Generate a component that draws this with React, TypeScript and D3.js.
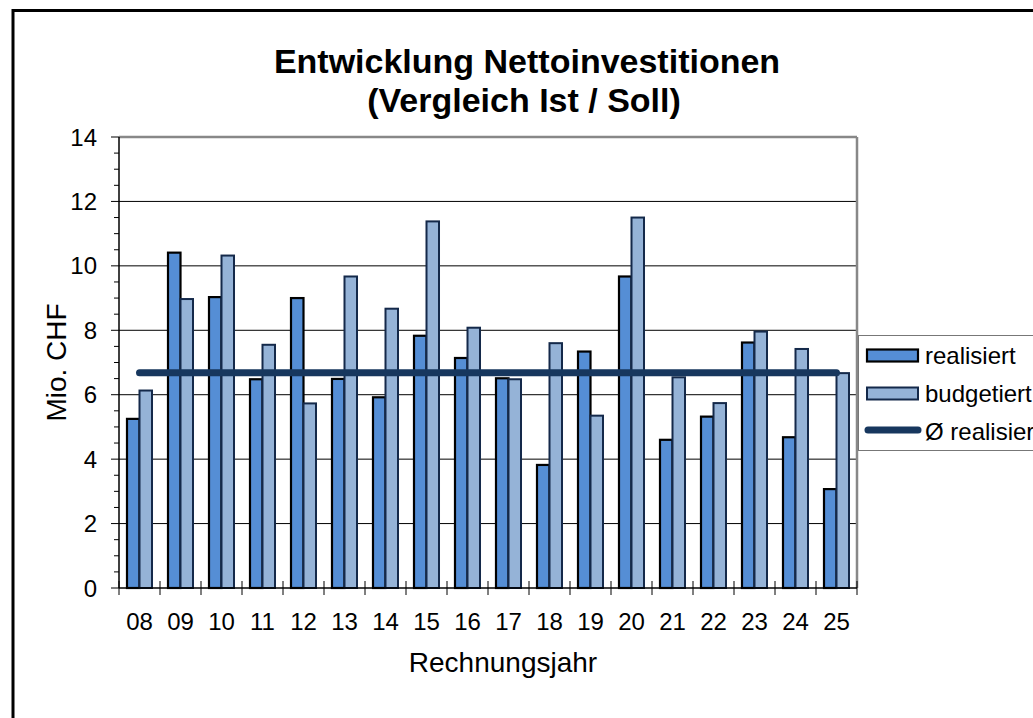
import React from "react";
import * as d3 from "d3";

const years = ["08","09","10","11","12","13","14","15","16","17","18","19","20","21","22","23","24","25"];
const realisiert = [5.25,10.41,9.03,6.48,9.0,6.49,5.92,7.83,7.14,6.51,3.82,7.34,9.67,4.6,5.32,7.62,4.68,3.07];
const budgetiert = [6.13,8.97,10.32,7.55,5.73,9.67,8.67,11.38,8.08,6.48,7.6,5.35,11.5,6.54,5.74,7.96,7.42,6.67];
const avgRealisiert = [6.68,6.68,6.68,6.68,6.68,6.68,6.68,6.68,6.68,6.68,6.68,6.68,6.68,6.68,6.68,6.68,6.68,6.68];
const yTicks = [0,2,4,6,8,10,12,14];
const seriesNames = ["realisiert","budgetiert"];
const legendLabels = ["realisiert","budgetiert","Ø realisiert"];

const FONT = "'Liberation Sans', Arial, sans-serif";
const C_REAL = "#558ED5";
const C_BUD = "#95B3D7";
const C_AVG = "#17375E";

export default function App() {
  const W = 1033, H = 718;
  const L = 119, R = 857, T = 137, B = 588;
  const x = d3.scaleBand<string>().domain(years).range([L, R]).paddingInner(0).paddingOuter(0);
  const bw = x.bandwidth();
  const groupW = bw * 0.61;
  const x1 = d3.scaleBand<string>().domain(seriesNames).range([0, groupW]).padding(0);
  const y = d3.scaleLinear().domain([0, 14]).range([B, T]);
  const minor = d3.range(0, 14.01, 0.5);
  const line = d3.line<number>()
    .x((_, i) => (x(years[i]) as number) + bw / 2)
    .y((d) => y(d));
  const off = (bw - groupW) / 2;

  return (
    <svg width={W} height={H} style={{ position: "absolute", left: 0, top: 0, background: "#fff" }} fontFamily={FONT}>
      <rect x={0} y={0} width={W} height={H} fill="#fff" />
      {/* outer frame */}
      <rect x={13} y={10.5} width={1100} height={800} fill="none" stroke="#000" strokeWidth={3} />
      {/* title */}
      <text x={527} y={73} textAnchor="middle" fontSize={34} fontWeight="bold">Entwicklung Nettoinvestitionen</text>
      <text x={524} y={112} textAnchor="middle" fontSize={34} fontWeight="bold">(Vergleich Ist / Soll)</text>
      {/* gridlines */}
      {yTicks.filter((t) => t > 0 && t < 14).map((t) => (
        <line key={t} x1={L} x2={R} y1={y(t)} y2={y(t)} stroke="#000" strokeWidth={1} />
      ))}
      {/* plot top & right border */}
      <line x1={L} x2={R} y1={T} y2={T} stroke="#888" strokeWidth={2.5} />
      <line x1={R} x2={R} y1={T} y2={B} stroke="#888" strokeWidth={2.5} />
      {/* bars */}
      {years.map((yr, i) => {
        const x0 = (x(yr) as number) + off;
        return (
          <g key={yr}>
            <rect x={x0 + (x1("realisiert") as number)} y={y(realisiert[i])} width={x1.bandwidth()} height={B - y(realisiert[i])}
              fill={C_REAL} stroke="#000" strokeWidth={2.2} />
            <rect x={x0 + (x1("budgetiert") as number)} y={y(budgetiert[i])} width={x1.bandwidth()} height={B - y(budgetiert[i])}
              fill={C_BUD} stroke="#14294A" strokeWidth={2} />
          </g>
        );
      })}
      {/* average line */}
      <path d={line(avgRealisiert) || ""} fill="none" stroke={C_AVG} strokeWidth={7} strokeLinecap="round" />
      {/* y axis */}
      <line x1={L} x2={L} y1={T} y2={B} stroke="#000" strokeWidth={1.5} />
      {minor.map((m) => (
        <line key={m} x1={m % 2 === 0 ? L - 8 : L - 5} x2={L} y1={y(m)} y2={y(m)} stroke="#000" strokeWidth={1} />
      ))}
      {yTicks.map((t) => (
        <text key={t} x={97} y={y(t) + 8.5} textAnchor="end" fontSize={24}>{t}</text>
      ))}
      {/* x axis */}
      <line x1={L} x2={R} y1={B} y2={B} stroke="#000" strokeWidth={1.5} />
      {years.map((yr) => (
        <line key={"t" + yr} x1={x(yr) as number} x2={x(yr) as number} y1={B - 7} y2={B + 7} stroke="#000" strokeWidth={1} />
      ))}
      <line x1={R} x2={R} y1={B - 7} y2={B + 7} stroke="#000" strokeWidth={1} />
      {years.map((yr) => (
        <text key={"l" + yr} x={(x(yr) as number) + bw / 2} y={630} textAnchor="middle" fontSize={24}>{yr}</text>
      ))}
      {/* axis titles */}
      <text x={503} y={672} textAnchor="middle" fontSize={28}>Rechnungsjahr</text>
      <text transform={`translate(66,${(T + B) / 2}) rotate(-90)`} textAnchor="middle" fontSize={28}>Mio. CHF</text>
      {/* legend */}
      <rect x={858.5} y={335.5} width={300} height={115} fill="#fff" stroke="#777" strokeWidth={1} />
      <rect x={867} y={349.5} width={51} height={12} fill={C_REAL} stroke="#000" strokeWidth={2.2} />
      <rect x={867} y={387.5} width={51} height={12} fill={C_BUD} stroke="#14294A" strokeWidth={2} />
      <line x1={868} x2={918} y1={430} y2={430} stroke={C_AVG} strokeWidth={7} strokeLinecap="round" />
      {legendLabels.map((lab, i) => (
        <text key={lab} x={925} y={364 + i * 38} fontSize={24}>{lab}</text>
      ))}
    </svg>
  );
}
